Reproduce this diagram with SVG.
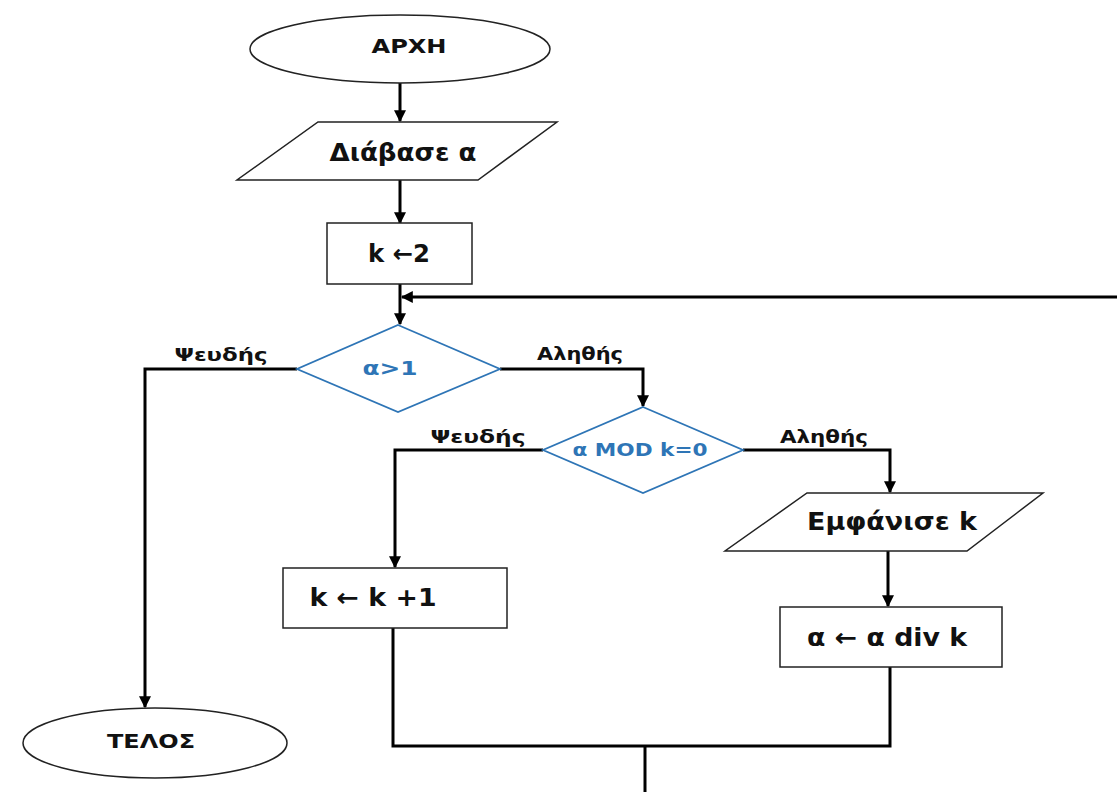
<svg xmlns="http://www.w3.org/2000/svg" width="1117" height="792" viewBox="0 0 1117 792">
<style>
.shape{fill:#fff;stroke:#222;stroke-width:1.5}
.dec{fill:#fff;stroke:#2e75b6;stroke-width:1.8}
.t{font-family:"DejaVu Sans",Verdana,sans-serif;font-weight:bold;fill:#111;text-anchor:middle;dominant-baseline:central}
.big{font-size:25px}
.mid{font-size:20px}
.lbl{font-size:17px}
.blue{fill:#2e75b6}
.c{fill:none;stroke:#000;stroke-width:3}
</style>
<defs>
<marker id="ah" viewBox="0 0 10 10" refX="9" refY="5" markerWidth="4" markerHeight="4" orient="auto" markerUnits="strokeWidth">
<path d="M0,0 L10,5 L0,10 z" fill="#000"/>
</marker>
</defs>
<rect width="1117" height="792" fill="#fff"/>
<g id="connectors">
<path class="c" d="M400,83 V121" marker-end="url(#ah)"/>
<path class="c" d="M400,180 V223" marker-end="url(#ah)"/>
<path class="c" d="M400,284 V324" marker-end="url(#ah)"/>
<path class="c" d="M1117,297 H402" marker-end="url(#ah)"/>
<path class="c" d="M297,369 H145 V707" marker-end="url(#ah)"/>
<path class="c" d="M500,369 H643 V406" marker-end="url(#ah)"/>
<path class="c" d="M543,450 H395 V567" marker-end="url(#ah)"/>
<path class="c" d="M743,450 H890 V492" marker-end="url(#ah)"/>
<path class="c" d="M888,551 V606" marker-end="url(#ah)"/>
<path class="c" d="M393,628 V746 H890 V667"/>
<path class="c" d="M645,746 V792"/>
<text class="t lbl" x="221" y="355" textLength="93" lengthAdjust="spacingAndGlyphs">Ψευδής</text>
<text class="t lbl" x="580" y="354" textLength="86" lengthAdjust="spacingAndGlyphs">Αληθής</text>
<text class="t lbl" x="478" y="437" textLength="95" lengthAdjust="spacingAndGlyphs">Ψευδής</text>
<text class="t lbl" x="824" y="437" textLength="88" lengthAdjust="spacingAndGlyphs">Αληθής</text>
</g>
<g id="start">
<ellipse class="shape" cx="400" cy="49" rx="150" ry="34"/>
<text class="t mid" x="409" y="46" textLength="75" lengthAdjust="spacingAndGlyphs">ΑΡΧΗ</text>
</g>
<g id="read">
<polygon class="shape" points="318,122 557,122 478,180 237,180"/>
<text class="t big" x="403" y="152" textLength="147" lengthAdjust="spacingAndGlyphs">Διάβασε α</text>
</g>
<g id="init">
<rect class="shape" x="327" y="223" width="145" height="61"/>
<text class="t big" x="399" y="253" textLength="62" lengthAdjust="spacingAndGlyphs">k ←2</text>
</g>
<g id="cond1">
<polygon class="dec" points="398,325 500,369 398,412 297,369"/>
<text class="t mid blue" x="390" y="368" textLength="55" lengthAdjust="spacingAndGlyphs">α&gt;1</text>
</g>
<g id="cond2">
<polygon class="dec" points="643,407 743,450 643,493 543,450"/>
<text class="t blue" style="font-size:17px" x="640" y="450" textLength="135" lengthAdjust="spacingAndGlyphs">α MOD k=0</text>
</g>
<g id="show">
<polygon class="shape" points="807,493 1043,493 967,551 725,551"/>
<text class="t big" x="892" y="521" textLength="170" lengthAdjust="spacingAndGlyphs">Εμφάνισε k</text>
</g>
<g id="inc">
<rect class="shape" x="283" y="568" width="224" height="60"/>
<text class="t big" x="373" y="597" textLength="127" lengthAdjust="spacingAndGlyphs">k ← k +1</text>
</g>
<g id="div">
<rect class="shape" x="780" y="607" width="222" height="60"/>
<text class="t big" x="887" y="637" textLength="160" lengthAdjust="spacingAndGlyphs">α ← α div k</text>
</g>
<g id="end">
<ellipse class="shape" cx="155" cy="743" rx="132" ry="35"/>
<text class="t mid" x="151" y="741" textLength="88" lengthAdjust="spacingAndGlyphs">ΤΕΛΟΣ</text>
</g>
</svg>
